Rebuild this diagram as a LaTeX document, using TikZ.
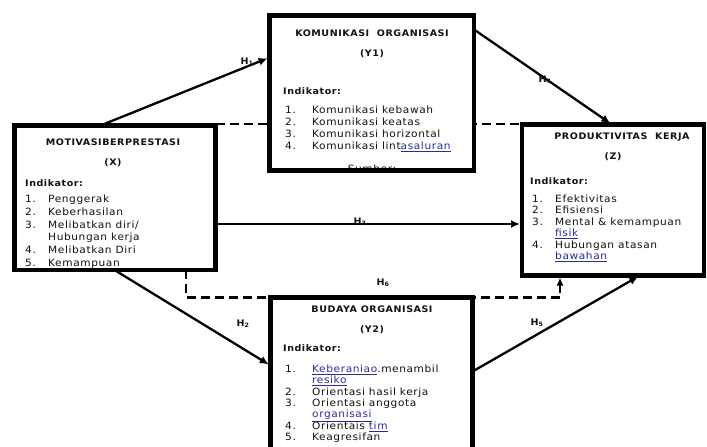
\documentclass[tikz,border=0pt]{standalone}
\usepackage{fontspec}
\usetikzlibrary{arrows.meta,calc}
\newfontfamily\df[FakeStretch=1.06,LetterSpace=6]{DejaVu Sans}
\definecolor{lnk}{HTML}{2B2B9E}
\definecolor{ink}{HTML}{111111}
\newcommand\lk[1]{\textcolor{lnk}{\underline{#1}}}
\begin{document}
\begin{tikzpicture}[x=1pt,y=-1pt,
  box/.style={draw=black,line width=4.5pt,fill=white,inner sep=0pt,outer sep=0pt,anchor=north west},
  ttl/.style={font=\df\bfseries\fontsize{9}{10}\selectfont,text=ink,anchor=base,inner sep=0pt},
  ind/.style={font=\df\bfseries\fontsize{9}{10}\selectfont,text=ink,anchor=base west,inner sep=0pt},
  lst/.style={text=ink,anchor=base west,inner sep=0pt},
  conn/.style={line width=2.3pt,-{Latex[length=9pt,width=8pt]},shorten >=2pt},
  dsh/.style={line width=2.3pt,dash pattern=on 9pt off 5pt},
  hl/.style={font=\df\bfseries\fontsize{9}{10}\selectfont,text=ink,inner sep=0pt}]
\useasboundingbox (0,0) rectangle (707,447);
\fill[white] (0,0) rectangle (707,447);
% dashed top line (behind Y1)
\coordinate (dtl) at (215.5,124);
\coordinate (dtr) at (522,124);
\draw[dsh] (dtl) -- (dtr);
% boxes
\node[box,minimum width=201pt,minimum height=144.5pt] (X) at (14.5,125.5) {};
\node[box,minimum width=204.5pt,minimum height=155pt] (Y1) at (269.5,15.5) {};
\node[box,minimum width=182pt,minimum height=151pt] (Z) at (522,124.5) {};
% dashed bottom line (behind Y2)
\draw[dsh,-{Latex[length=8pt,width=7pt]},shorten >=2pt] ([xshift=171.5pt]X.south west) |- (271,297.5) -- (473,297.5) -| ([xshift=38pt]Z.south west);
\begin{scope}
\clip (0,0) rectangle (707,447);
\node[box,minimum width=202pt,minimum height=170pt] (Y2) at (270.5,297.5) {};
\end{scope}
% X content
\node[ttl] (xt) at (113,145) {MOTIVASIBERPRESTASI};
\node[ttl] (xv) at (113,165) {(X)};
\node[ind] (xi) at (25,186) {Indikator:};
\node[lst,font=\df\fontsize{10}{12.8}\selectfont] (xl) at (25,202.5) {\begin{tabular}[t]{@{}p{23pt}@{}l@{}}
1. & Penggerak\\
2. & Keberhasilan\\
3. & Melibatkan diri/\\
   & Hubungan kerja\\
4. & Melibatkan Diri\\
5. & Kemampuan
\end{tabular}};
% Y1 content
\node[ttl] (yt) at (372,36) {KOMUNIKASI\ \ ORGANISASI};
\node[ttl] (yv) at (372,56) {(Y1)};
\node[ind] (yi) at (283,94) {Indikator:};
\node[lst,font=\df\fontsize{10}{12}\selectfont] (yl) at (285,113.5) {\begin{tabular}[t]{@{}p{27pt}@{}l@{}}
1. & Komunikasi kebawah\\
2. & Komunikasi keatas\\
3. & Komunikasi horizontal\\
4. & Komunikasi lint\lk{asaluran}
\end{tabular}};
\node[lst,font=\df\fontsize{10}{11}\selectfont,anchor=base] (ys) at (372,172.5) {Sumber:};
\draw[line width=4.5pt] (Y1.south west) -- (Y1.south east);
% Z content
\node[ttl] (zt) at (622,139) {PRODUKTIVITAS\ \ KERJA};
\node[ttl] (zv) at (613,159) {(Z)};
\node[ind] (zi) at (530,184) {Indikator:};
\node[lst,font=\df\fontsize{10}{11.4}\selectfont] (zl) at (532,202.5) {\begin{tabular}[t]{@{}p{23pt}@{}l@{}}
1. & Efektivitas\\
2. & Efisiensi\\
3. & Mental \& kemampuan\\
   & \lk{fisik}\\
4. & Hubungan atasan\\
   & \lk{bawahan}
\end{tabular}};
% Y2 content
\node[ttl] (bt) at (372,312) {BUDAYA ORGANISASI};
\node[ttl] (bv) at (372,332) {(Y2)};
\node[ind] (bi) at (283,351) {Indikator:};
\node[lst,font=\df\fontsize{10}{11.3}\selectfont] (bl) at (285,372.5) {\begin{tabular}[t]{@{}p{27pt}@{}l@{}}
1. & \lk{Keberaniao}.menambil\\
   & \lk{resiko}\\
2. & Orientasi hasil kerja\\
3. & Orientasi anggota\\
   & \lk{organisasi}\\
4. & Orientais \lk{tim}\\
5. & Keagresifan
\end{tabular}};
% connectors
\draw[conn] ([xshift=86pt]X.north west) -- ([yshift=-42pt]Y1.north west);
\draw[conn] ([yshift=-14pt]Y1.north east) -- ([xshift=90pt]Z.north west);
\draw[conn] ([yshift=-98.5pt]X.north east) -- ([yshift=-99.5pt]Z.north west);
\draw[conn] ([xshift=100pt]X.south west) -- ([yshift=-68pt]Y2.north west);
\draw[conn] ([yshift=-74pt]Y2.north east) -- ([xshift=118pt]Z.south west);
% labels
\node[hl] (h1) at (247,62) {H\textsubscript{1}};
\node[hl] (h4) at (545,80) {H\textsubscript{4}};
\node[hl] (h3) at (360,222) {H\textsubscript{3}};
\node[hl] (h6) at (383,283) {H\textsubscript{6}};
\node[hl] (h2) at (243,324) {H\textsubscript{2}};
\node[hl] (h5) at (537,323) {H\textsubscript{5}};
\end{tikzpicture}
\end{document}
